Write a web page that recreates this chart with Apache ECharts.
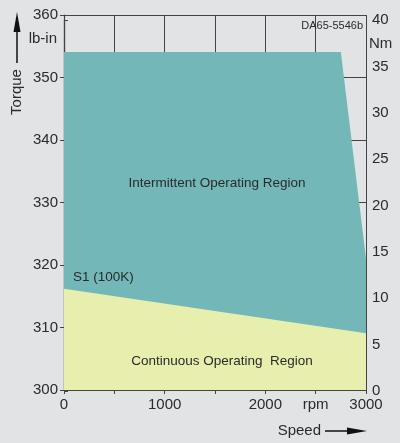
<!DOCTYPE html>
<html>
<head>
<meta charset="utf-8">
<script src="https://cdn.jsdelivr.net/npm/echarts@6/dist/echarts.min.js"></script>
<style>
  html, body { margin: 0; padding: 0; background: #e2e3e5; }
  #chart { width: 400px; height: 443px; }
</style>
</head>
<body>
<div id="chart"></div>
<script>
// 数据：转速 rpm / 扭矩 lb-in
var speedTicks = [0, 1000, 2000, 3000];
var intermittentBorder = [[0, 354.1], [2750, 354.1], [3000, 321.0]]; // 间歇运行区上边界
var continuousBorder = [[0, 316.2], [3000, 309.1]]; // S1 (100K) 连续运行区上边界
var torqueRange = [300, 360]; // lb-in
var nmRange = [0, 40]; // Nm

var font = '"Liberation Sans", Arial, sans-serif';
var txt = '#2b2b2b';
var lineCol = '#444';

var chart = echarts.init(document.getElementById('chart'));
chart.setOption({
  backgroundColor: '#e2e3e5',
  animation: false,
  textStyle: { fontFamily: font },
  grid: [
    { left: 64, right: 34, top: 15, bottom: 53 },
    { left: 64, right: 34, top: 20, bottom: 52 }
  ],
  xAxis: [
    {
      type: 'value', gridIndex: 0,
      min: 0, max: 3000, interval: 500,
      axisLine: { show: true, lineStyle: { color: lineCol, width: 1.2 } },
      axisTick: { show: true, length: 4, lineStyle: { color: lineCol } },
      splitLine: { show: true, lineStyle: { color: lineCol, width: 1 } },
      axisLabel: {
        color: txt, fontSize: 15, margin: 7,
        formatter: function (v) {
          if (speedTicks.indexOf(v) >= 0) return String(v);
          if (v === 2500) return 'rpm';
          return '';
        }
      }
    },
    {
      type: 'value', gridIndex: 1, min: 0, max: 3000, show: false
    }
  ],
  yAxis: [
    {
      type: 'value', gridIndex: 0,
      min: torqueRange[0], max: torqueRange[1], interval: 10,
      axisLine: { show: true, lineStyle: { color: lineCol, width: 1.2 } },
      axisTick: { show: true, length: 4, lineStyle: { color: lineCol } },
      splitLine: { show: true, lineStyle: { color: lineCol, width: 1 } },
      axisLabel: { color: txt, fontSize: 15, margin: 6 }
    },
    {
      type: 'value', gridIndex: 1, position: 'right',
      min: nmRange[0], max: nmRange[1], interval: 5,
      axisLine: { show: true, lineStyle: { color: lineCol, width: 1.2 } },
      axisTick: { show: true, length: 4, lineStyle: { color: lineCol } },
      splitLine: { show: false },
      axisLabel: { color: txt, fontSize: 15, margin: 6 }
    }
  ],
  series: [
    {
      type: 'line', xAxisIndex: 0, yAxisIndex: 0,
      data: intermittentBorder,
      symbol: 'none',
      lineStyle: { width: 0 },
      areaStyle: { color: '#74b7b8', opacity: 1, origin: 'start' },
      silent: true
    },
    {
      type: 'line', xAxisIndex: 0, yAxisIndex: 0,
      data: continuousBorder,
      symbol: 'none',
      lineStyle: { width: 0 },
      areaStyle: { color: '#e7eeae', opacity: 1, origin: 'start' },
      silent: true
    }
  ],
  graphic: [
    // 左侧 Torque 箭头
    { type: 'line', z: 100, shape: { x1: 17, y1: 30, x2: 17, y2: 63 }, style: { stroke: '#111', lineWidth: 1.5 } },
    { type: 'polygon', z: 100, shape: { points: [[17, 12], [13.5, 32], [20.5, 32]] }, style: { fill: '#111' } },
    { type: 'text', z: 100, x: 17, y: 92, rotation: Math.PI / 2, style: { text: 'Torque', font: '15px ' + font, fill: txt, align: 'center', verticalAlign: 'middle' } },
    { type: 'text', z: 100, x: 57, y: 39, style: { text: 'lb-in', font: '15px ' + font, fill: txt, align: 'right', verticalAlign: 'middle' } },
    // 右侧单位
    { type: 'text', z: 100, x: 369, y: 44, style: { text: 'Nm', font: '15px ' + font, fill: txt, align: 'left', verticalAlign: 'middle' } },
    { type: 'text', z: 100, x: 363, y: 26, style: { text: 'DA65-5546b', font: '11px ' + font, fill: txt, align: 'right', verticalAlign: 'middle' } },
    // 底部 Speed 箭头
    { type: 'text', z: 100, x: 321, y: 431, style: { text: 'Speed', font: '15px ' + font, fill: txt, align: 'right', verticalAlign: 'middle' } },
    { type: 'line', z: 100, shape: { x1: 325, y1: 431, x2: 350, y2: 431 }, style: { stroke: '#111', lineWidth: 1.5 } },
    { type: 'polygon', z: 100, shape: { points: [[367, 431], [347, 427.5], [347, 434.5]] }, style: { fill: '#111' } },
    // 区域说明
    { type: 'text', z: 100, x: 217, y: 183, style: { text: 'Intermittent Operating Region', font: '13.5px ' + font, fill: txt, align: 'center', verticalAlign: 'middle' } },
    { type: 'text', z: 100, x: 222, y: 361, style: { text: 'Continuous Operating  Region', font: '13.5px ' + font, fill: txt, align: 'center', verticalAlign: 'middle' } },
    { type: 'text', z: 100, x: 73, y: 277, style: { text: 'S1 (100K)', font: '13.5px ' + font, fill: txt, align: 'left', verticalAlign: 'middle' } }
  ]
});
</script>
</body>
</html>
